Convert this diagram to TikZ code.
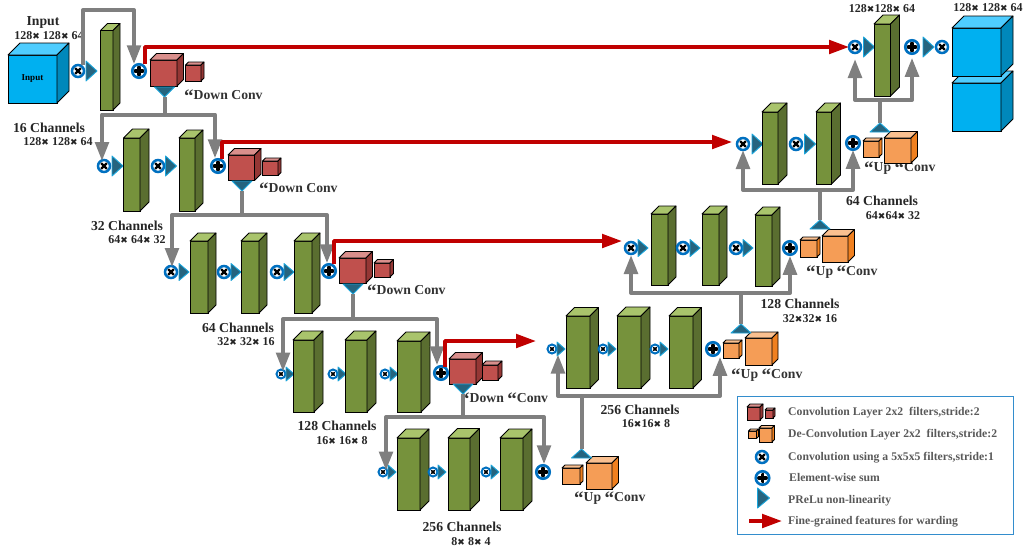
\documentclass[tikz,border=0pt]{standalone}
\usepackage{fontspec}
\setmainfont{Liberation Serif}
\newfontfamily\symfont{DejaVu Sans}
\usetikzlibrary{arrows.meta,calc}
\definecolor{gF}{HTML}{76923C}\definecolor{gT}{HTML}{A9C46C}\definecolor{gS}{HTML}{5A6E30}
\definecolor{rF}{HTML}{C0504D}\definecolor{rT}{HTML}{D98F8C}\definecolor{rS}{HTML}{953735}
\definecolor{oF}{HTML}{F59D56}\definecolor{oT}{HTML}{FAC090}\definecolor{oS}{HTML}{F0801F}
\definecolor{bF}{HTML}{00B0F0}\definecolor{bT}{HTML}{4FCDFF}\definecolor{bS}{HTML}{0088BB}
\definecolor{ring}{HTML}{0070C0}\definecolor{triF}{HTML}{25647F}\definecolor{triB}{HTML}{19A5DC}
\definecolor{grayc}{HTML}{7F7F7F}\definecolor{redc}{HTML}{C00000}\definecolor{legtxt}{HTML}{595959}
\newcommand{\xm}{{\symfont\fontsize{9}{9}\selectfont ✖}}
\newcommand{\ql}{{\fontsize{19}{14}\selectfont\raisebox{-2.5pt}{“}}}
% name x y w h d colour-prefix
\newcommand{\cuboid}[7]{%
  \node[cubef,fill=#7F,minimum width=#4pt,minimum height=#5pt] (#1) at (#2,#3) {};
  \draw[cubeline,fill=#7T] (#1.north west) -- ++(#6,-#6) -- ++(#4,0) -- ++(-#6,#6) -- cycle;
  \draw[cubeline,fill=#7S] (#1.north east) -- ++(#6,-#6) -- ++(0,#5) -- ++(-#6,#6) -- cycle;
}
\newcommand{\prelu}[4][10]{%
  \draw[trist] (#2,#3-#4) -- (#2+#1,#3) -- (#2,#3+#4) -- cycle;
}
\newcommand{\downtri}[3]{\coordinate (#1) at (#2,#3);
  \draw[trist] (#2-10,#3-10) -- (#2+10,#3-10) -- (#2,#3) -- cycle;}
\newcommand{\uptri}[3]{\coordinate (#1) at (#2,#3);
  \draw[trist] (#2-10,#3+9) -- (#2+10,#3+9) -- (#2,#3) -- cycle;}
\tikzset{
  x=1pt,y=-1pt,
  cubef/.style={rectangle,draw=black,line width=.8pt,anchor=north west,inner sep=0pt,outer sep=0pt},
  cubeline/.style={draw=black,line width=.8pt,line join=round},
  trist/.style={draw=triB,fill=triF,line width=.9pt,line join=round},
  convA/.style={circle,draw=ring,line width=2.5pt,fill=white,minimum size=12pt,inner sep=0pt,outer sep=0pt,
    path picture={\draw[black,line width=2.3pt,line cap=round] ($(path picture bounding box.center)+(-2.5,-2.5)$) -- ++(5,5) ($(path picture bounding box.center)+(-2.5,2.5)$) -- ++(5,-5);}},
  convB/.style={circle,draw=ring,line width=2pt,fill=white,minimum size=9pt,inner sep=0pt,outer sep=0pt,
    path picture={\draw[black,line width=1.5pt,line cap=round] ($(path picture bounding box.center)+(-1.4,-1.4)$) -- ++(2.8,2.8) ($(path picture bounding box.center)+(-1.4,1.4)$) -- ++(2.8,-2.8);}},
  sumn/.style={circle,draw=ring,line width=2.6pt,fill=white,minimum size=13.5pt,inner sep=0pt,outer sep=0pt,
    path picture={\draw[black,line width=3.8pt,line cap=round] ($(path picture bounding box.center)+(-3.6,0)$) -- ++(7.2,0) ($(path picture bounding box.center)+(0,-3.6)$) -- ++(0,7.2);}},
  grayarrow/.style={draw=grayc,line width=4pt,line join=round,-{Triangle[width=13.5pt,length=19pt]}},
  redarrow/.style={draw=redc,line width=3.6pt,line join=round,-{Triangle[width=13.5pt,length=20pt]}},
  head/.style={font=\fontsize{13.7}{14}\bfseries\selectfont,text=black!85,inner sep=0pt},
  dims/.style={font=\fontsize{12}{12}\bfseries\selectfont,text=black!85,inner sep=0pt},
  opl/.style={font=\fontsize{13.7}{14}\bfseries\selectfont,text=black!80,anchor=west,inner sep=0pt},
  legt/.style={font=\fontsize{11.7}{12}\bfseries\selectfont,text=legtxt,anchor=west,inner sep=0pt},
}
\begin{document}
\begin{tikzpicture}
\useasboundingbox (0,0) rectangle (1024,549);
% ---- cubes at the two ends
\cuboid{inp}{8}{55}{49}{48}{12}{b}
\node[font=\fontsize{9}{9}\bfseries\selectfont,inner sep=0pt] (inptxt) at (32.5,79) {Input};
\cuboid{outb}{952}{83}{49}{48}{12}{b}
\cuboid{outa}{952}{28}{49}{48}{12}{b}
% ---- texts
\node[head] (t1) at (43,22) {Input};
\node[dims] (t2) at (49,36) {128\xm\ 128\xm\ 64};
\node[head] (t3) at (49,128) {16 Channels};
\node[dims] (t4) at (58,142) {128\xm\ 128\xm\ 64};
\node[head] (t5) at (127,226) {32 Channels};
\node[dims] (t6) at (137,240) {64\xm\ 64\xm\ 32};
\node[head] (t7) at (238,328) {64 Channels};
\node[dims] (t8) at (246,342) {32\xm\ 32\xm\ 16};
\node[head] (t9) at (337,426) {128 Channels};
\node[dims] (t10) at (342,441) {16\xm\ 16\xm\ 8};
\node[head] (t11) at (462,527) {256 Channels};
\node[dims] (t12) at (471,542) {8\xm\ 8\xm\ 4};
\node[head] (t13) at (640,410) {256 Channels};
\node[dims] (t14) at (646,424) {16\xm16\xm\ 8};
\node[head] (t15) at (800,304) {128 Channels};
\node[dims] (t16) at (810,319) {32\xm32\xm\ 16};
\node[head] (t17) at (882,201) {64 Channels};
\node[dims] (t18) at (893,216) {64\xm64\xm\ 32};
\node[dims] (t19) at (882,9) {128\xm128\xm\ 64};
\node[dims] (t20) at (988,8) {128\xm\ 128\xm\ 64};
\node[opl] (o1) at (184,96) {\ql Down Conv};
\node[opl] (o2) at (259,189) {\ql Down Conv};
\node[opl] (o3) at (367,291) {\ql Down Conv};
\node[opl] (o4) at (460,399) {\ql Down \ql Conv};
\node[opl] (o5) at (574,498) {\ql Up \ql Conv};
\node[opl] (o6) at (731,375) {\ql Up \ql Conv};
\node[opl] (o7) at (806,272) {\ql Up \ql Conv};
\node[opl] (o8) at (864,168) {\ql Up \ql Conv};
% ---- encoder row 0
\node[convA] (c0) at (78,71) {};
\prelu[11]{86}{71}{10}
\cuboid{g0}{100.5}{30.5}{12.5}{79.5}{7}{g}
\node[sumn] (s0) at (139,71) {};
\cuboid{rb0}{150}{60}{27}{26}{6.5}{r}
\cuboid{rs0}{185.5}{65}{15.5}{16}{3}{r}
\downtri{d0}{164.5}{97}
% ---- encoder row 1
\node[convA] (c1) at (104,166) {};
\prelu[11]{112}{166}{10}
\cuboid{g1}{123.5}{138}{16.5}{73}{9}{g}
\node[convA] (c1b) at (158,166) {};
\prelu[11]{165.5}{166}{10}
\cuboid{g1b}{179}{138}{16}{73}{8}{g}
\node[sumn] (s1) at (218,166) {};
\cuboid{rb1}{228}{155}{26.5}{25.5}{6.5}{r}
\cuboid{rs1}{262.5}{161}{15.5}{14.5}{3}{r}
\downtri{d1}{242}{191}
% ---- encoder row 2
\node[convA] (c2) at (171,272) {};
\prelu{179}{272}{8.5}
\cuboid{g2}{190}{241}{18}{72}{8}{g}
\node[convA] (c2b) at (224,272) {};
\prelu{231}{272}{8.5}
\cuboid{g2b}{241}{241}{18}{72}{8}{g}
\node[convA] (c2c) at (277,272) {};
\prelu{284}{272}{8.5}
\cuboid{g2c}{294}{241}{18}{72}{8}{g}
\node[sumn] (s2) at (329,271) {};
\cuboid{rb2}{339}{258}{27}{25}{6.5}{r}
\cuboid{rs2}{374}{263}{16}{14}{3.5}{r}
\downtri{d2}{353}{294}
% ---- encoder row 3
\node[convB] (c3) at (281,374) {};
\prelu[8]{286}{374}{7}
\cuboid{g3}{293}{340}{21}{72}{9}{g}
\node[convB] (c3b) at (333,374) {};
\prelu[8]{338}{374}{7}
\cuboid{g3b}{345}{340}{22}{72}{9}{g}
\node[convB] (c3c) at (385,374) {};
\prelu[8]{390}{374}{7}
\cuboid{g3c}{397}{341}{24}{71}{9}{g}
\node[sumn] (s3) at (441,373) {};
\cuboid{rb3}{449}{359}{27}{25}{6.5}{r}
\cuboid{rs3}{482}{365}{16}{15}{4}{r}
\downtri{d3}{463}{394}
% ---- bottom row
\node[convB] (c4) at (383,472) {};
\prelu[8]{388}{472}{7}
\cuboid{g4}{397}{438}{23}{72}{9}{g}
\node[convB] (c4b) at (433,472) {};
\prelu[8]{438}{472}{7}
\cuboid{g4b}{448}{438}{22}{72}{9.5}{g}
\node[convB] (c4c) at (486,472) {};
\prelu[8]{491}{472}{7}
\cuboid{g4c}{500}{438}{23}{72}{9}{g}
\node[sumn] (s4) at (543,472) {};
\cuboid{os4}{562}{468}{18}{16}{3}{o}
\cuboid{ob4}{586}{463}{26}{26}{6.5}{o}
\uptri{u4}{581.5}{449}
% ---- decoder row (256)
\node[convB] (e4) at (552,349) {};
\prelu[8]{557}{349}{7}
\cuboid{h4}{566}{316}{24}{72}{8.5}{g}
\node[convB] (e4b) at (603,349) {};
\prelu[8]{608}{349}{7}
\cuboid{h4b}{617}{316}{24}{72}{9}{g}
\node[convB] (e4c) at (655,349) {};
\prelu[8]{660}{349}{7}
\cuboid{h4c}{669}{316}{24}{72}{8.5}{g}
\node[sumn] (f4) at (713,349) {};
\cuboid{os3}{723}{343}{16}{15}{3}{o}
\cuboid{ob3}{745}{338}{27}{27}{6}{o}
\uptri{u3}{741}{324}
% ---- decoder row (128)
\node[convA] (e3) at (631,248) {};
\prelu{638}{248}{8.5}
\cuboid{h3}{651}{214}{17}{71}{8}{g}
\node[convA] (e3b) at (683,248) {};
\prelu{690}{248}{8.5}
\cuboid{h3b}{702}{214}{17}{71}{8}{g}
\node[convA] (e3c) at (736,248) {};
\prelu{743}{248}{8.5}
\cuboid{h3c}{755}{215}{17}{71}{8}{g}
\node[sumn] (f3) at (790,248) {};
\cuboid{os2}{800}{240}{17}{17}{3}{o}
\cuboid{ob2}{822}{236}{26}{26}{6.5}{o}
\uptri{u2}{820}{220}
% ---- decoder row (64)
\node[convA] (e2) at (743,144) {};
\prelu[11]{752}{144}{10}
\cuboid{h2}{762}{112}{16}{72}{9}{g}
\node[convA] (e2b) at (796,144) {};
\prelu[11]{804.5}{144}{10}
\cuboid{h2b}{816}{112}{15.5}{72}{9}{g}
\node[sumn] (f2) at (853,143) {};
\cuboid{os1}{863}{141}{16}{16}{3}{o}
\cuboid{ob1}{884}{138}{27}{25}{6.5}{o}
\uptri{u1}{880}{123}
% ---- top decoder
\node[convA] (e1) at (855,47) {};
\prelu[11]{863.5}{47}{10}
\cuboid{h1}{874}{24}{16.5}{72}{9}{g}
\node[sumn] (f1) at (912,47) {};
\prelu[11]{923}{47}{10}
\node[convA] (e0) at (942,47) {};
% ---- gray connectors
\draw[grayarrow] ([xshift=5pt]c0.north) -- ++(0,-55) -| ([xshift=-5pt]s0.north);
\draw[grayarrow] (d0) -- ++(0,17.5) -| ([xshift=-2pt,yshift=-1pt]c1.north);
\draw[grayarrow] (d0) -- ++(0,17.5) -| ([xshift=-3pt,yshift=1pt]s1.north);
\draw[grayarrow] (d1) -- ++(0,24) -| ([xshift=1pt,yshift=-1pt]c2.north);
\draw[grayarrow] (d1) -- ++(0,24) -| ([xshift=-2pt,yshift=1pt]s2.north);
\draw[grayarrow] (d2) -- ++(0,25) -| ([xshift=2pt,yshift=-2pt]c3.north);
\draw[grayarrow] (d2) -- ++(0,25) -| ([xshift=-4pt,yshift=1pt]s3.north);
\draw[grayarrow] (d3) -- ++(0,23) -| ([xshift=3pt,yshift=-3pt]c4.north);
\draw[grayarrow] (d3) -- ++(0,23) -| ([xshift=1pt,yshift=1pt]s4.north);
\draw[grayarrow] (u4) -- ++(0,-53) -| ([xshift=6pt,yshift=-1pt]e4.south);
\draw[grayarrow] (u4) -- ++(0,-53) -| ([xshift=7pt,yshift=-1pt]f4.south);
\draw[grayarrow] (u3) -- ++(0,-31) -| ([yshift=-1pt]e3.south);
\draw[grayarrow] (u3) -- ++(0,-31) -| ([yshift=-1pt]f3.south);
\draw[grayarrow] (u2) -- ++(0,-30) -| (e2.south);
\draw[grayarrow] (u2) -- ++(0,-30) -| (f2.south);
\draw[grayarrow] (u1) -- ++(0,-23) -| ([yshift=-6pt]e1.south);
\draw[grayarrow] (u1) -- ++(0,-23) -| ([yshift=-4pt]f1.south);
% ---- red connectors
\coordinate (free4) at (536,341);
\draw[redarrow] ([xshift=6pt]s0.north) |- (e1.west);
\draw[redarrow] ([xshift=4pt]s1.north) |- ([xshift=-5pt,yshift=2pt]e2.west);
\draw[redarrow] ([xshift=5pt]s2.north) |- ([xshift=-3pt,yshift=7pt]e3.west);
\draw[redarrow] ([xshift=4pt,yshift=-1pt]s3.north) |- (free4);
% ---- legend
\node[rectangle,draw=ring!80,line width=1pt,anchor=north west,minimum width=276pt,minimum height=138pt,inner sep=0pt] (legend) at (737,396) {};
\cuboid{lr1}{747}{407}{13}{13}{3}{r}
\cuboid{lr2}{765}{410}{8}{8}{2}{r}
\cuboid{lo1}{748.5}{431}{8}{7.5}{2}{o}
\cuboid{lo2}{759}{428}{13}{14}{2.5}{o}
\node[legt] (l1) at (788,413) {Convolution Layer 2x2\ \ filters,stride:2};
\node[legt] (l2) at (788,435) {De-Convolution Layer 2x2\ \ filters,stride:2};
\node[convA] (lc) at (762,457) {};
\node[legt] (l3) at (788,458) {Convolution using a 5x5x5 filters,stride:1};
\node[sumn] (ls) at (762.5,478) {};
\node[legt] (l4) at (789,478) {Element-wise sum};
\prelu[12]{757.5}{498}{10}
\node[legt] (l5) at (788,501) {PReLu non-linearity};
\coordinate (la) at (749,521);
\coordinate (lb) at (782,521);
\draw[redarrow] (la) -- (lb);
\node[legt] (l6) at (788,522) {Fine-grained features for warding};
\end{tikzpicture}
\end{document}
